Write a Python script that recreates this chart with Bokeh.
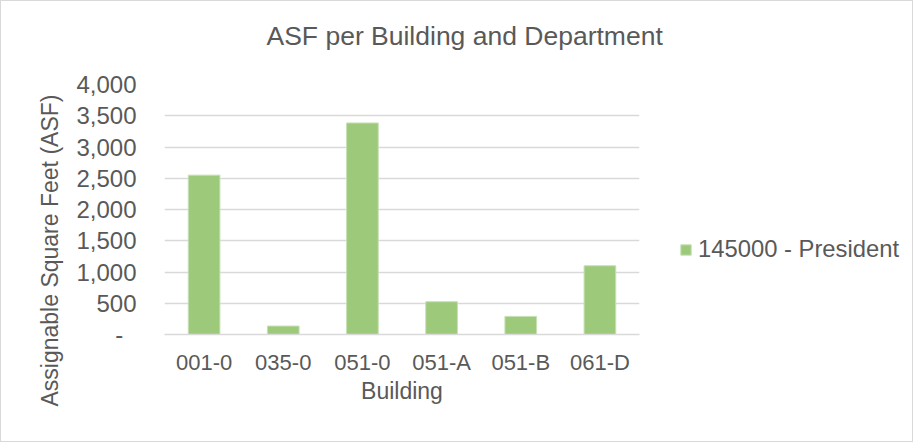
from bokeh.plotting import figure
from bokeh.layouts import row
from bokeh.models import (Title, Legend, LegendItem, FixedTicker, NumeralTickFormatter,
                          ColumnDataSource, FactorRange, Range1d)
from bokeh.embed import file_html
from bokeh.resources import INLINE

# ---- data ----
buildings = ["001-0", "035-0", "051-0", "051-A", "051-B", "061-D"]
asf = [2550, 135, 3385, 525, 290, 1100]
y_ticks = [0, 500, 1000, 1500, 2000, 2500, 3000, 3500, 4000]
series_name = "145000 - President"
title_text = "ASF per Building and Department"
x_title = "Building"
y_title = "Assignable Square Feet (ASF)"

FONT = "Liberation Sans"
TXT = "#595959"
GRID = "#D9D9D9"
BAR = "#9DC97B"
BAR_EDGE = "#C6E0B4"

source = ColumnDataSource(dict(building=buildings, asf=asf))

p = figure(width=667, height=440,
           x_range=FactorRange(factors=buildings, range_padding=0),
           y_range=Range1d(0, 4000),
           output_backend="svg", toolbar_location=None,
           min_border_left=163, min_border_right=29,
           min_border_top=83, min_border_bottom=107)
p.outline_line_color = None
p.background_fill_color = "white"
p.border_fill_color = "white"

r = p.vbar(x="building", top="asf", width=0.4, source=source,
           fill_color=BAR, line_color=BAR_EDGE, line_width=1)

# grid / axes
p.xgrid.grid_line_color = None
p.ygrid.grid_line_color = GRID
p.ygrid.grid_line_width = 1.5

p.yaxis.ticker = FixedTicker(ticks=y_ticks)
p.yaxis.formatter = NumeralTickFormatter(format="0,0")
p.yaxis.major_label_overrides = {0: "-\u00a0\u00a0"}
p.yaxis.axis_line_color = None
p.yaxis.major_label_standoff = 28
p.yaxis.major_label_text_font_size = "24px"

p.xaxis.axis_line_color = GRID
p.xaxis.axis_line_width = 1.5
p.xaxis.major_label_standoff = 15
p.xaxis.major_label_text_font_size = "22px"
p.xaxis.axis_label = x_title
p.xaxis.axis_label_standoff = 0

for ax in (p.xaxis, p.yaxis):
    ax.major_tick_line_color = None
    ax.minor_tick_line_color = None
    ax.major_tick_out = 0
    ax.major_tick_in = 0
    ax.minor_tick_out = 0
    ax.major_label_text_font = FONT
    ax.major_label_text_color = TXT
    ax.axis_label_text_font = FONT
    ax.axis_label_text_font_size = "23px"
    ax.axis_label_text_color = TXT
    ax.axis_label_text_font_style = "normal"

# y-axis title, placed like the spreadsheet's (centred on the whole chart height)
ytitle = Title(text=y_title, align="left", offset=-72, vertical_align="bottom",
               standoff=22, text_font=FONT, text_font_size="23px",
               text_color=TXT, text_font_style="normal")
p.add_layout(ytitle, "left")

# chart title, with a blank spacer between it and the plot area
spacer = Title(text=" ", text_font_size="1px", standoff=31, text_color="white")
p.add_layout(spacer, "above")
title = Title(text=title_text, align="left", offset=102, vertical_align="bottom",
              standoff=0, text_font=FONT, text_font_size="26.5px",
              text_color=TXT, text_font_style="normal")
p.add_layout(title, "above")

# legend lives in a narrow side figure; its renderer is hidden so only the
# legend swatch is drawn
lf = figure(width=244, height=440,
            x_range=FactorRange(factors=buildings), y_range=Range1d(-2, -1),
            output_backend="svg", toolbar_location=None, min_border=0,
            x_axis_location=None, y_axis_location=None)
lf.grid.visible = False
lf.outline_line_color = None
lf.background_fill_color = "white"
lf.border_fill_color = "white"
lr = lf.vbar(x="building", top="asf", width=0.4, source=source,
             fill_color=BAR, line_color=BAR_EDGE, line_width=1)
lr.visible = False

legend = Legend(items=[LegendItem(label=series_name, renderers=[lr])],
                location=(11, 71), padding=0, margin=0,
                glyph_width=13, glyph_height=13, label_height=13, label_standoff=6,
                border_line_color=None, background_fill_alpha=0,
                inactive_fill_alpha=0,
                label_text_font=FONT, label_text_font_size="23.8px",
                label_text_color=TXT)
lf.add_layout(legend, "center")

layout = row(p, lf, styles={"border": "1px solid #D9D9D9"})

open("out.html", "w").write(file_html(layout, INLINE))
